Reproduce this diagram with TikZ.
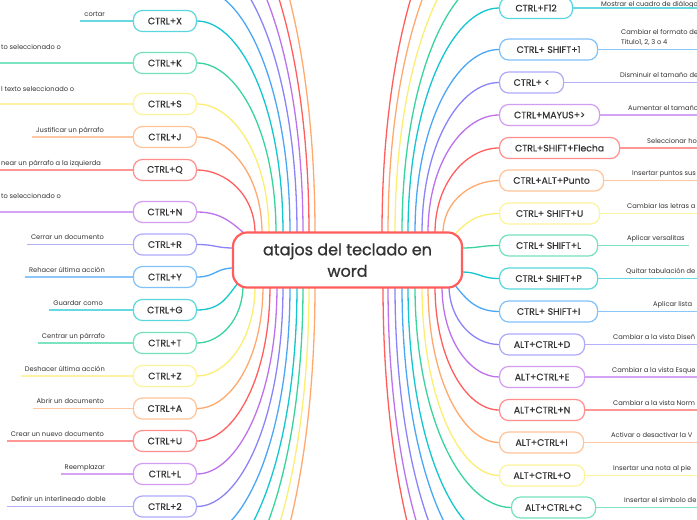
\documentclass[tikz,border=0pt]{standalone}
\usepackage{fontspec}
\setmainfont{Poppins}
\newfontfamily\mmkbface{Poppins}[FakeBold=0.4]
\newfontfamily\mmcenterface{Poppins}[FakeBold=0.9]
\usetikzlibrary{calc}
\definecolor{cC}{HTML}{14C6D0}
\definecolor{cG}{HTML}{38D49C}
\definecolor{cY}{HTML}{FBEE72}
\definecolor{cO}{HTML}{FFA96E}
\definecolor{cR}{HTML}{FF5E5E}
\definecolor{cP}{HTML}{BD72EC}
\definecolor{cV}{HTML}{8A84F7}
\definecolor{cB}{HTML}{4BA7F6}
\definecolor{ink}{HTML}{333333}
\newcommand\mmkbfont{\mmkbface\fontsize{9.3}{11}\selectfont}
\newcommand\mmlabfont{\fontsize{6.7}{10}\selectfont}
\newcommand\mmcenterfont{\mmcenterface\fontsize{16}{21.5}\selectfont}
\tikzset{
  kb/.style={draw=#1!70, line width=1.2pt, rounded corners=9pt, fill=white,
    minimum height=21pt, inner xsep=0pt, inner ysep=0pt, text=ink, font=\mmkbfont},
  lab/.style={inner xsep=4pt, inner ysep=0pt, text=ink, font=\mmlabfont},
  labedge/.style={lab, inner xsep=0pt, anchor=base west},
  ln/.style={draw=#1, line width=1.3pt},
  ul/.style={draw=#1!65, line width=1.2pt},
  tv/.style={to path={.. controls ($(\tikztostart)!0.5!(\tikztotarget|-\tikztostart)$)
     and ($(\tikztotarget)!0.6!(\tikztotarget|-\tikztostart)$) .. (\tikztotarget)}},
  ts/.style={to path={.. controls ($(\tikztostart)!0.5!(\tikztotarget|-\tikztostart)$)
     and ($(\tikztotarget)!0.5!(\tikztostart|-\tikztotarget)$) .. (\tikztotarget)}},
}
\begin{document}
\begin{tikzpicture}[x=1pt,y=-1pt]
\useasboundingbox (0,0) rectangle (697,520);
\fill[white] (0,0) rectangle (697,520);
\clip (0,0) rectangle (697,520);

% ---------- left children ----------
\node[kb=cC, minimum width=63pt, anchor=east] (nX) at (197,21) {CTRL+X};
\node[kb=cG, minimum width=63pt, anchor=east] (nK) at (197,63) {CTRL+K};
\node[kb=cY, minimum width=63pt, anchor=east] (nS) at (197,104) {CTRL+S};
\node[kb=cO, minimum width=63pt, anchor=east] (nJ) at (197,137) {CTRL+J};
\node[kb=cR, minimum width=63pt, anchor=east] (nQ) at (197,170) {CTRL+Q};
\node[kb=cP, minimum width=63pt, anchor=east] (nN) at (197,212) {CTRL+N};
\node[kb=cV, minimum width=63pt, anchor=east] (nR) at (197,244.5) {CTRL+R};
\node[kb=cB, minimum width=63pt, anchor=east] (nYk) at (197,277) {CTRL+Y};
\node[kb=cC, minimum width=63pt, anchor=east] (nGk) at (197,310) {CTRL+G};
\node[kb=cG, minimum width=63pt, anchor=east] (nT) at (197,343) {CTRL+T};
\node[kb=cY, minimum width=63pt, anchor=east] (nZ) at (197,376) {CTRL+Z};
\node[kb=cO, minimum width=63pt, anchor=east] (nA) at (197,408.5) {CTRL+A};
\node[kb=cR, minimum width=63pt, anchor=east] (nU) at (197,441) {CTRL+U};
\node[kb=cP, minimum width=63pt, anchor=east] (nL) at (197,474) {CTRL+L};
\node[kb=cV, minimum width=63pt, anchor=east] (nTwo) at (197,506.5) {CTRL+2};

% left labels
\node[lab, anchor=base east] (lX) at (109,16) {cortar};
\node[labedge] (lK) at (1,49) {to seleccionado o};
\node[labedge] (lS) at (1,91) {l texto seleccionado o};
\node[lab, anchor=base east] (lJ) at (108,132) {Justificar un párrafo};
\node[labedge] (lQ) at (1,165) {near un párrafo a la izquierda};
\node[labedge] (lN) at (1,198) {to seleccionado o};
\node[lab, anchor=base east] (lR) at (108,239.5) {Cerrar un documento};
\node[lab, anchor=base east] (lYk) at (109,272) {Rehacer última acción};
\node[lab, anchor=base east] (lGk) at (107,305) {Guardar como};
\node[lab, anchor=base east] (lT) at (109,338) {Centrar un párrafo};
\node[lab, anchor=base east] (lZ) at (109,371) {Deshacer última acción};
\node[lab, anchor=base east] (lA) at (108,403.5) {Abrir un documento};
\node[lab, anchor=base east] (lU) at (108,436) {Crear un nuevo documento};
\node[lab, anchor=base east] (lL) at (109,469) {Reemplazar};
\node[lab, anchor=base east] (lTwo) at (110,501.5) {Definir un interlineado doble};

% free ends of underlines that run off the left edge
\coordinate (eK) at (-2,63);
\coordinate (eS) at (-2,104);
\coordinate (eQ) at (-2,170);
\coordinate (eN) at (-2,212);

\draw[ul=cC] (lX.west |- nX.west) -- (nX.west);
\draw[ul=cG] (eK) -- (nK.west);
\draw[ul=cY] (eS) -- (nS.west);
\draw[ul=cO] (lJ.west |- nJ.west) -- (nJ.west);
\draw[ul=cR] (eQ) -- (nQ.west);
\draw[ul=cP] (eN) -- (nN.west);
\draw[ul=cV] (lR.west |- nR.west) -- (nR.west);
\draw[ul=cB] (lYk.west |- nYk.west) -- (nYk.west);
\draw[ul=cC] (lGk.west |- nGk.west) -- (nGk.west);
\draw[ul=cG] (lT.west |- nT.west) -- (nT.west);
\draw[ul=cY] (lZ.west |- nZ.west) -- (nZ.west);
\draw[ul=cO] (lA.west |- nA.west) -- (nA.west);
\draw[ul=cR] (lU.west |- nU.west) -- (nU.west);
\draw[ul=cP] (lL.west |- nL.west) -- (nL.west);
\draw[ul=cV] (lTwo.west |- nTwo.west) -- (nTwo.west);

% ---------- right children ----------
\node[kb=cC, minimum width=73pt, anchor=west] (nF12) at (499,8) {CTRL+F12};
\node[kb=cB, minimum width=98pt, anchor=west] (nS1) at (499,49.5) {CTRL+ SHIFT+1};
\node[kb=cV, minimum width=64pt, anchor=west] (nLt) at (499,82.5) {CTRL+ <};
\node[kb=cP, minimum width=100pt, anchor=west] (nMy) at (499,115) {CTRL+MAYUS+>};
\node[kb=cR, minimum width=120pt, anchor=west] (nFl) at (499,148) {CTRL+SHIFT+Flecha};
\node[kb=cO, minimum width=104pt, anchor=west] (nPu) at (499,180.5) {CTRL+ALT+Punto};
\node[kb=cY, minimum width=100pt, anchor=west] (nSU) at (499,213.5) {CTRL+ SHIFT+U};
\node[kb=cG, minimum width=98pt, anchor=west] (nSL) at (499,245.5) {CTRL+ SHIFT+L};
\node[kb=cC, minimum width=98pt, anchor=west] (nSP) at (499,278.5) {CTRL+ SHIFT+P};
\node[kb=cB, minimum width=98pt, anchor=west] (nSI) at (499,311.5) {CTRL+ SHIFT+I};
\node[kb=cV, minimum width=85pt, anchor=west] (nAD) at (499,344.5) {ALT+CTRL+D};
\node[kb=cP, minimum width=85pt, anchor=west] (nAE) at (499,377) {ALT+CTRL+E};
\node[kb=cR, minimum width=85pt, anchor=west] (nAN) at (499,410) {ALT+CTRL+N};
\node[kb=cO, minimum width=84pt, anchor=west] (nAI) at (499,442.5) {ALT+CTRL+I};
\node[kb=cY, minimum width=85pt, anchor=west] (nAO) at (499,475.5) {ALT+CTRL+O};
\node[kb=cG, minimum width=84pt, anchor=west] (nAC) at (511,507.5) {ALT+CTRL+C};

% right labels
\node[lab, anchor=base west] (lF12) at (597,6) {Mostrar el cuadro de diálogo};
\node[lab, anchor=south west, align=left] (lS1) at (617,46) {Cambiar el formato de\\Titulo1, 2, 3 o 4};
\node[lab, anchor=base west] (lLt) at (616,77.5) {Disminuir el tamaño de};
\node[lab, anchor=base west] (lMy) at (624,110) {Aumentar el tamaño};
\node[lab, anchor=base west] (lFl) at (643,143) {Seleccionar ho};
\node[lab, anchor=base west] (lPu) at (628,175.5) {Insertar puntos sus};
\node[lab, anchor=base west] (lSU) at (623,208.5) {Cambiar las letras a};
\node[lab, anchor=base west] (lSL) at (623,240.5) {Aplicar versalitas};
\node[lab, anchor=base west] (lSP) at (622,273.5) {Quitar tabulación de};
\node[lab, anchor=base west] (lSI) at (649,306.5) {Aplicar lista};
\node[lab, anchor=base west] (lAD) at (609,339.5) {Cambiar a la vista Diseñ};
\node[lab, anchor=base west] (lAE) at (608,372) {Cambiar a la vista Esque};
\node[lab, anchor=base west] (lAN) at (609,405) {Cambiar a la vista Norm};
\node[lab, anchor=base west] (lAI) at (607,437.5) {Activar o desactivar la V};
\node[lab, anchor=base west] (lAO) at (609,470.5) {Insertar una nota al pie};
\node[lab, anchor=base west] (lAC) at (620,502.5) {Insertar el símbolo de};

% free ends of underlines that run off the right edge
\coordinate (eF12) at (699,8);
\coordinate (eS1) at (699,49.5);
\coordinate (eLt) at (699,82.5);
\coordinate (eMy) at (699,115);
\coordinate (eFl) at (699,148);
\coordinate (ePu) at (699,180.5);
\coordinate (eSU) at (699,213.5);
\coordinate (eSP) at (699,278.5);
\coordinate (eSI) at (699,311.5);
\coordinate (eAD) at (699,344.5);
\coordinate (eAE) at (699,377);
\coordinate (eAN) at (699,410);
\coordinate (eAI) at (699,442.5);
\coordinate (eAO) at (699,475.5);
\coordinate (eAC) at (699,507.5);

\draw[ul=cC] (nF12.east) -- (eF12);
\draw[ul=cB] (nS1.east) -- (eS1);
\draw[ul=cV] (nLt.east) -- (eLt);
\draw[ul=cP] (nMy.east) -- (eMy);
\draw[ul=cR] (nFl.east) -- (eFl);
\draw[ul=cO] (nPu.east) -- (ePu);
\draw[ul=cY] (nSU.east) -- (eSU);
\draw[ul=cG] (nSL.east) -- (lSL.east |- nSL.east);
\draw[ul=cC] (nSP.east) -- (eSP);
\draw[ul=cB] (nSI.east) -- (eSI);
\draw[ul=cV] (nAD.east) -- (eAD);
\draw[ul=cP] (nAE.east) -- (eAE);
\draw[ul=cR] (nAN.east) -- (eAN);
\draw[ul=cO] (nAI.east) -- (eAI);
\draw[ul=cY] (nAO.east) -- (eAO);
\draw[ul=cG] (nAC.east) -- (eAC);

% ---------- attachment points on the central topic ----------
\coordinate (aQ) at (255,233);
\coordinate (aJ) at (262,233);
\coordinate (aS) at (269,233);
\coordinate (aK) at (276,233);
\coordinate (aX) at (283,233);
\coordinate (aT1) at (290,233);
\coordinate (aT2) at (297,233);
\coordinate (aT3) at (303,233);
\coordinate (aT4) at (309,233);
\coordinate (aT5) at (315,233);
\coordinate (aN) at (245,234);
\coordinate (aR) at (234,248);
\coordinate (aY) at (234,268);
\coordinate (aG) at (238,283);
\coordinate (aT) at (243,285);
\coordinate (aZ) at (255,286);
\coordinate (aA) at (263,286);
\coordinate (aU) at (270,286);
\coordinate (aL) at (277,286);
\coordinate (a2) at (283,286);
\coordinate (aB1) at (290,286);
\coordinate (aB2) at (297,286);
\coordinate (aB3) at (303,286);
\coordinate (aB4) at (309,286);
\coordinate (aB5) at (315,286);
\coordinate (aRT1) at (382,233);
\coordinate (aRT2) at (388,233);
\coordinate (aRT3) at (395,233);
\coordinate (aRT4) at (402,233);
\coordinate (aF12) at (408,233);
\coordinate (aS1) at (415,233);
\coordinate (aLt) at (422,233);
\coordinate (aMy) at (428,233);
\coordinate (aFl) at (435,233);
\coordinate (aPu) at (443,233);
\coordinate (aSU) at (454,235);
\coordinate (aSL) at (461,248);
\coordinate (aSP) at (461,272);
\coordinate (aSI) at (454,284);
\coordinate (aRB5) at (383,286);
\coordinate (aRB4) at (388,286);
\coordinate (aRB3) at (395,286);
\coordinate (aRB2) at (402,286);
\coordinate (aRB1) at (408,286);
\coordinate (aAC) at (415,286);
\coordinate (aAO) at (422,286);
\coordinate (aAI) at (428,286);
\coordinate (aAN) at (435,286);
\coordinate (aAE) at (442,286);
\coordinate (aAD) at (449,285);

% children outside the visible area
\coordinate (oT1) at (197,-12);
\coordinate (oT2) at (197,-45);
\coordinate (oT3) at (197,-78);
\coordinate (oT4) at (197,-111);
\coordinate (oT5) at (197,-144);
\coordinate (oB1) at (197,539);
\coordinate (oB2) at (197,572);
\coordinate (oB3) at (197,605);
\coordinate (oB4) at (197,638);
\coordinate (oB5) at (197,671);
\coordinate (oRT4) at (499,-25);
\coordinate (oRT3) at (499,-58);
\coordinate (oRT2) at (499,-91);
\coordinate (oRT1) at (499,-124);
\coordinate (oRB1) at (499,540);
\coordinate (oRB2) at (499,573);
\coordinate (oRB3) at (499,606);
\coordinate (oRB4) at (499,639);
\coordinate (oRB5) at (499,672);

% ---------- connectors ----------
\draw[ln=cO] (oT5) to[tv] (aT5);
\draw[ln=cR] (oT4) to[tv] (aT4);
\draw[ln=cP] (oT3) to[tv] (aT3);
\draw[ln=cV] (oT2) to[tv] (aT2);
\draw[ln=cB] (oT1) to[tv] (aT1);
\draw[ln=cC] (nX.east) to[tv] (aX);
\draw[ln=cG] (nK.east) to[tv] (aK);
\draw[ln=cY] (nS.east) to[tv] (aS);
\draw[ln=cO] (nJ.east) to[tv] (aJ);
\draw[ln=cR] (nQ.east) to[tv] (aQ);
\draw[ln=cP] (nN.east) .. controls +(25,0) and +(-12,-10) .. (aN);
\draw[ln=cV] (nR.east) to[ts] (aR);
\draw[ln=cB] (nYk.east) to[ts] (aY);
\draw[ln=cC] (nGk.east) .. controls +(25,0) and +(-10,12) .. (aG);
\draw[ln=cG] (nT.east) to[tv] (aT);
\draw[ln=cY] (nZ.east) to[tv] (aZ);
\draw[ln=cO] (nA.east) to[tv] (aA);
\draw[ln=cR] (nU.east) to[tv] (aU);
\draw[ln=cP] (nL.east) to[tv] (aL);
\draw[ln=cV] (nTwo.east) to[tv] (a2);
\draw[ln=cB] (oB1) to[tv] (aB1);
\draw[ln=cC] (oB2) to[tv] (aB2);
\draw[ln=cG] (oB3) to[tv] (aB3);
\draw[ln=cY] (oB4) to[tv] (aB4);
\draw[ln=cO] (oB5) to[tv] (aB5);

\draw[ln=cR] (oRT1) to[tv] (aRT1);
\draw[ln=cO] (oRT2) to[tv] (aRT2);
\draw[ln=cY] (oRT3) to[tv] (aRT3);
\draw[ln=cG] (oRT4) to[tv] (aRT4);
\draw[ln=cC] (nF12.west) to[tv] (aF12);
\draw[ln=cB] (nS1.west) to[tv] (aS1);
\draw[ln=cV] (nLt.west) to[tv] (aLt);
\draw[ln=cP] (nMy.west) to[tv] (aMy);
\draw[ln=cR] (nFl.west) to[tv] (aFl);
\draw[ln=cO] (nPu.west) to[tv] (aPu);
\draw[ln=cY] (nSU.west) .. controls +(-25,0) and +(10,-10) .. (aSU);
\draw[ln=cG] (nSL.west) to[ts] (aSL);
\draw[ln=cC] (nSP.west) to[ts] (aSP);
\draw[ln=cB] (nSI.west) .. controls +(-25,0) and +(10,12) .. (aSI);
\draw[ln=cV] (nAD.west) to[tv] (aAD);
\draw[ln=cP] (nAE.west) to[tv] (aAE);
\draw[ln=cR] (nAN.west) to[tv] (aAN);
\draw[ln=cO] (nAI.west) to[tv] (aAI);
\draw[ln=cY] (nAO.west) to[tv] (aAO);
\draw[ln=cG] (nAC.west) to[tv] (aAC);
\draw[ln=cC] (oRB1) to[tv] (aRB1);
\draw[ln=cB] (oRB2) to[tv] (aRB2);
\draw[ln=cV] (oRB3) to[tv] (aRB3);
\draw[ln=cP] (oRB4) to[tv] (aRB4);
\draw[ln=cR] (oRB5) to[tv] (aRB5);

% ---------- central topic ----------
\node[draw=cR, line width=2.2pt, rounded corners=14pt, fill=white,
  minimum width=229pt, minimum height=55pt, align=center, text=ink,
  font=\mmcenterfont] (c) at (347.5,260) {atajos del teclado en\\word};
\end{tikzpicture}
\end{document}
